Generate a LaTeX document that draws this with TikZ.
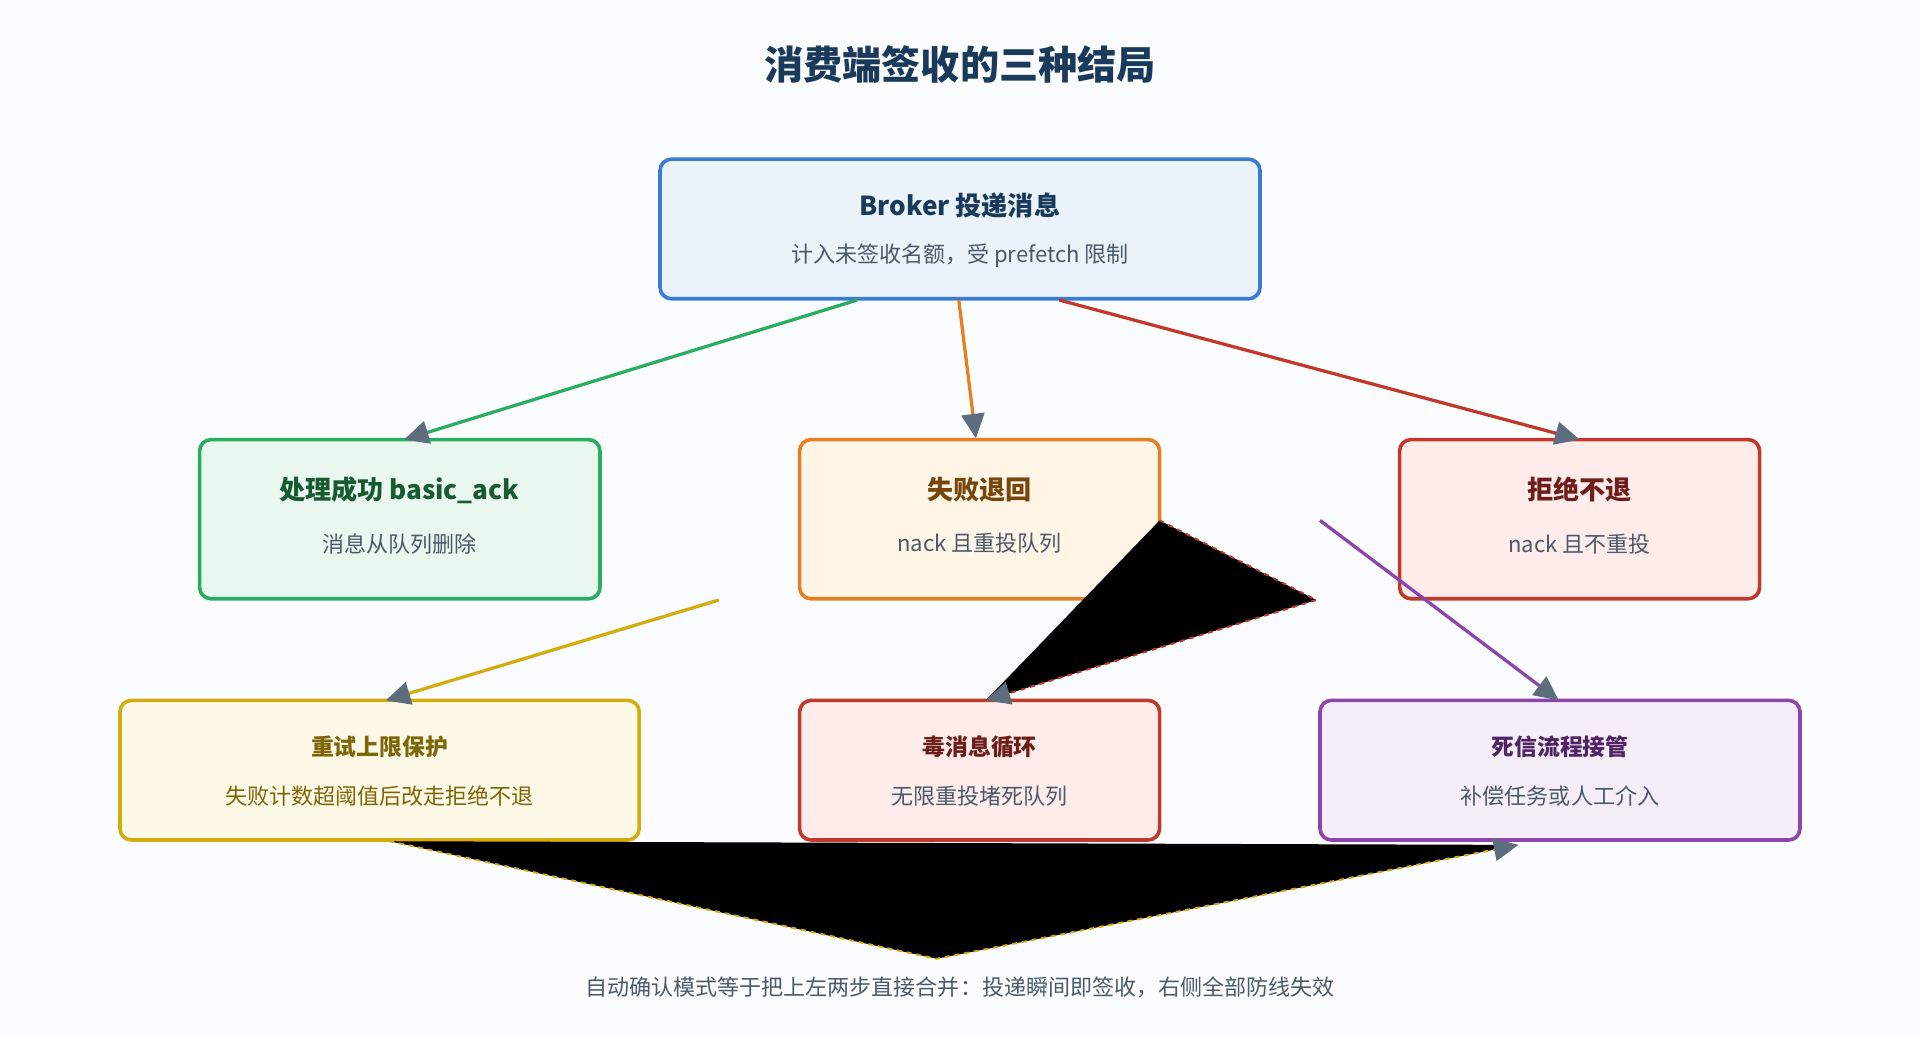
\documentclass[tikz,border=0pt]{standalone}
\usepackage{fontspec}
\setmainfont{Noto Sans CJK SC}
\usetikzlibrary{arrows.meta}
\definecolor{bg}{HTML}{FBFCFE}
\definecolor{tip}{HTML}{5D6D7E}
\definecolor{sub}{HTML}{4A5A6A}
\begin{document}
\begin{tikzpicture}[x=0.75pt,y=-0.75pt,
 ttl/.style={font=\bfseries\fontsize{16}{18}\selectfont},
 sm/.style={font=\bfseries\fontsize{14}{16}\selectfont},
 st/.style={font=\fontsize{13.5}{16}\selectfont,text=sub},
 con/.style={line width=2pt,-{Triangle[length=15pt,width=14pt,color=tip]}}]
\fill[bg] (0,0) rectangle (1568,848);
\useasboundingbox (0,0) rectangle (1568,848);
\node[font=\bfseries\fontsize{24}{28}\selectfont,text={rgb,255:red,26;green,58;blue,92}] (title) at (784,53) {消费端签收的三种结局};
\path[draw={rgb,255:red,58;green,123;blue,213},fill={rgb,255:red,234;green,242;blue,250},line width=2.2pt,rounded corners=7pt] (539,130) rectangle (1029,244);
\node[ttl,text={rgb,255:red,26;green,58;blue,92}] (b1) at (784,168) {Broker 投递消息};
\node[st] (b2) at (784,209) {计入未签收名额，受 prefetch 限制};
\path[draw={rgb,255:red,39;green,174;blue,96},fill={rgb,255:red,233;green,247;blue,239},line width=2.2pt,rounded corners=7pt] (163,359) rectangle (490,489);
\node[ttl,text={rgb,255:red,24;green,90;blue,50}] (g1) at (326,400) {处理成功 basic\_ack};
\node[st] (g2) at (326,444) {消息从队列删除};
\path[draw={rgb,255:red,230;green,126;blue,34},fill={rgb,255:red,254;green,245;blue,231},line width=2.2pt,rounded corners=7pt] (653,359) rectangle (947,489);
\node[ttl,text={rgb,255:red,120;green,70;blue,10}] (o1) at (800,400) {失败退回};
\node[st] (o2) at (800,444) {nack 且重投队列};
\path[draw={rgb,255:red,192;green,57;blue,43},fill={rgb,255:red,253;green,236;blue,234},line width=2.2pt,rounded corners=7pt] (1143,359) rectangle (1437,489);
\node[ttl,text={rgb,255:red,110;green,30;blue,25}] (r1) at (1290,400) {拒绝不退};
\node[st] (r2) at (1290,444) {nack 且不重投};
\path[draw={rgb,255:red,212;green,172;blue,13},fill={rgb,255:red,254;green,249;blue,231},line width=2.2pt,rounded corners=7pt] (98,572) rectangle (522,686);
\node[sm,text={rgb,255:red,125;green,102;blue,8}] (y1) at (310,610) {重试上限保护};
\node[st,text={rgb,255:red,125;green,102;blue,8}] (y2) at (310,650) {失败计数超阈值后改走拒绝不退};
\path[draw={rgb,255:red,192;green,57;blue,43},fill={rgb,255:red,253;green,236;blue,234},line width=2.2pt,rounded corners=7pt] (653,572) rectangle (947,686);
\node[sm,text={rgb,255:red,110;green,30;blue,25}] (p1) at (800,610) {毒消息循环};
\node[st] (p2) at (800,650) {无限重投堵死队列};
\path[draw={rgb,255:red,142;green,68;blue,173},fill={rgb,255:red,245;green,238;blue,248},line width=2.2pt,rounded corners=7pt] (1078,572) rectangle (1470,686);
\node[sm,text={rgb,255:red,80;green,35;blue,100}] (d1) at (1274,610) {死信流程接管};
\node[st] (d2) at (1274,650) {补偿任务或人工介入};
\node[st] (note) at (784,806) {自动确认模式等于把上左两步直接合并：投递瞬间即签收，右侧全部防线失效};
\coordinate (s1) at (700,245); \coordinate (e1) at (330,359);
\coordinate (s2) at (783,245); \coordinate (e2) at (797,358);
\coordinate (s3) at (865,245); \coordinate (e3) at (1290,359);
\coordinate (s4) at (587,490); \coordinate (e4) at (315,572);
\coordinate (s5) at (1078,425); \coordinate (e5) at (1273,572);
\coordinate (s6) at (947,425); \coordinate (c6) at (1075,490); \coordinate (e6) at (805,572);
\coordinate (s7) at (318,687); \coordinate (c7) at (765,783); \coordinate (e7) at (1240,690);
\draw[con,draw={rgb,255:red,39;green,174;blue,96}] (s1) -- (e1);
\draw[con,draw={rgb,255:red,230;green,126;blue,34}] (s2) -- (e2);
\draw[con,draw={rgb,255:red,192;green,57;blue,43}] (s3) -- (e3);
\draw[con,draw={rgb,255:red,212;green,172;blue,13}] (s4) -- (e4);
\draw[con,draw={rgb,255:red,142;green,68;blue,173}] (s5) -- (e5);
\fill[black] (s6) -- (c6) -- (e6) -- cycle;
\draw[con,line width=1.2pt,dashed,draw={rgb,255:red,192;green,57;blue,43}] (s6) -- (c6) -- (e6);
\fill[black] (s7) -- (c7) -- (e7) -- cycle;
\draw[con,line width=1.2pt,dashed,draw={rgb,255:red,212;green,172;blue,13}] (s7) -- (c7) -- (e7);
\end{tikzpicture}
\end{document}
